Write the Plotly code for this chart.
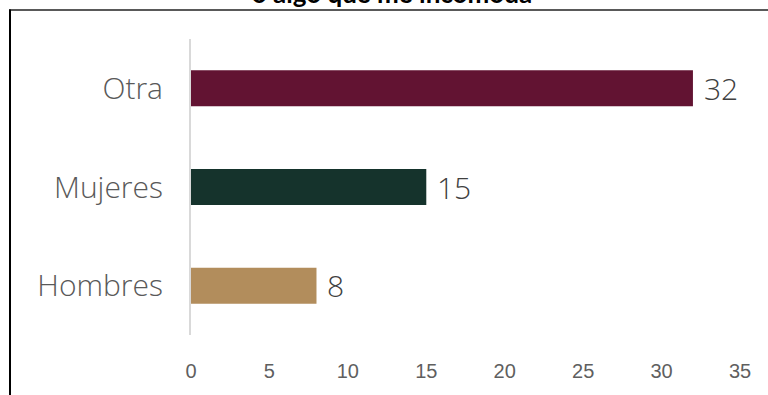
import plotly.graph_objects as go

# Chart data
categories = ["Hombres", "Mujeres", "Otra"]
values = [8, 15, 32]
bar_colors = ["#B28D5C", "#15332C", "#621332"]
x_ticks = [0, 5, 10, 15, 20, 25, 30, 35]
title_text = "o algo que me incomoda"

W, H = 768, 395
L, R, T, B = 191, 28, 38.5, 59.5
plot_w = W - L - R
plot_h = H - T - B


def px_to_xpaper(px):
    return (px - L) / plot_w


def py_to_ypaper(py):
    return 1 - (py - T) / plot_h


label_font = "Open Sans, Lato, DejaVu Sans, sans-serif"

fig = go.Figure()
fig.add_trace(go.Bar(
    y=categories,
    x=values,
    orientation="h",
    marker=dict(color=bar_colors, line=dict(width=0)),
    width=0.365,
    hoverinfo="skip",
))

# Value labels next to each bar end
for cat, val in zip(categories, values):
    fig.add_annotation(
        x=val, y=cat, xref="x", yref="y",
        text=str(val), showarrow=False,
        xanchor="left", yanchor="middle", xshift=9,
        font=dict(family=label_font, size=30, color="#404040", weight=300),
    )

# Frame lines around the chart area (top and left)
fig.add_shape(type="line", xref="paper", yref="paper",
              x0=px_to_xpaper(9), x1=px_to_xpaper(W + 10),
              y0=py_to_ypaper(9.5), y1=py_to_ypaper(9.5),
              line=dict(color="#222222", width=1.5))
fig.add_shape(type="line", xref="paper", yref="paper",
              x0=px_to_xpaper(10), x1=px_to_xpaper(10),
              y0=py_to_ypaper(9), y1=py_to_ypaper(H + 10),
              line=dict(color="#000000", width=2))

fig.update_layout(
    width=W, height=H,
    margin=dict(l=L, r=R, t=T, b=B, pad=0),
    paper_bgcolor="white",
    plot_bgcolor="white",
    showlegend=False,
    title=dict(
        text="<b>" + title_text + "</b>",
        x=392 / W, xanchor="center",
        y=1 - 3 / H, yanchor="bottom", yref="container",
        font=dict(family="Lato, Open Sans, sans-serif", size=26, color="#000000"),
    ),
    xaxis=dict(
        range=[0, 35],
        tickvals=x_ticks,
        ticktext=[str(t) for t in x_ticks],
        showgrid=False,
        zeroline=False,
        showline=False,
        ticks="outside", ticklen=18, tickcolor="rgba(0,0,0,0)",
        tickfont=dict(family="Liberation Sans Narrow, Liberation Sans, sans-serif",
                      size=20, color="#5f5f5f"),
        fixedrange=True,
    ),
    yaxis=dict(
        categoryorder="array",
        categoryarray=categories,
        range=[-0.5, 2.5],
        showgrid=False,
        zeroline=False,
        showline=True, linecolor="#D9D9D9", linewidth=2,
        ticks="outside", ticklen=20, tickcolor="rgba(0,0,0,0)",
        tickfont=dict(family=label_font, size=30, color="#595959", weight=300),
        fixedrange=True,
    ),
)

fig.write_html("out.html", config={"displayModeBar": False})
